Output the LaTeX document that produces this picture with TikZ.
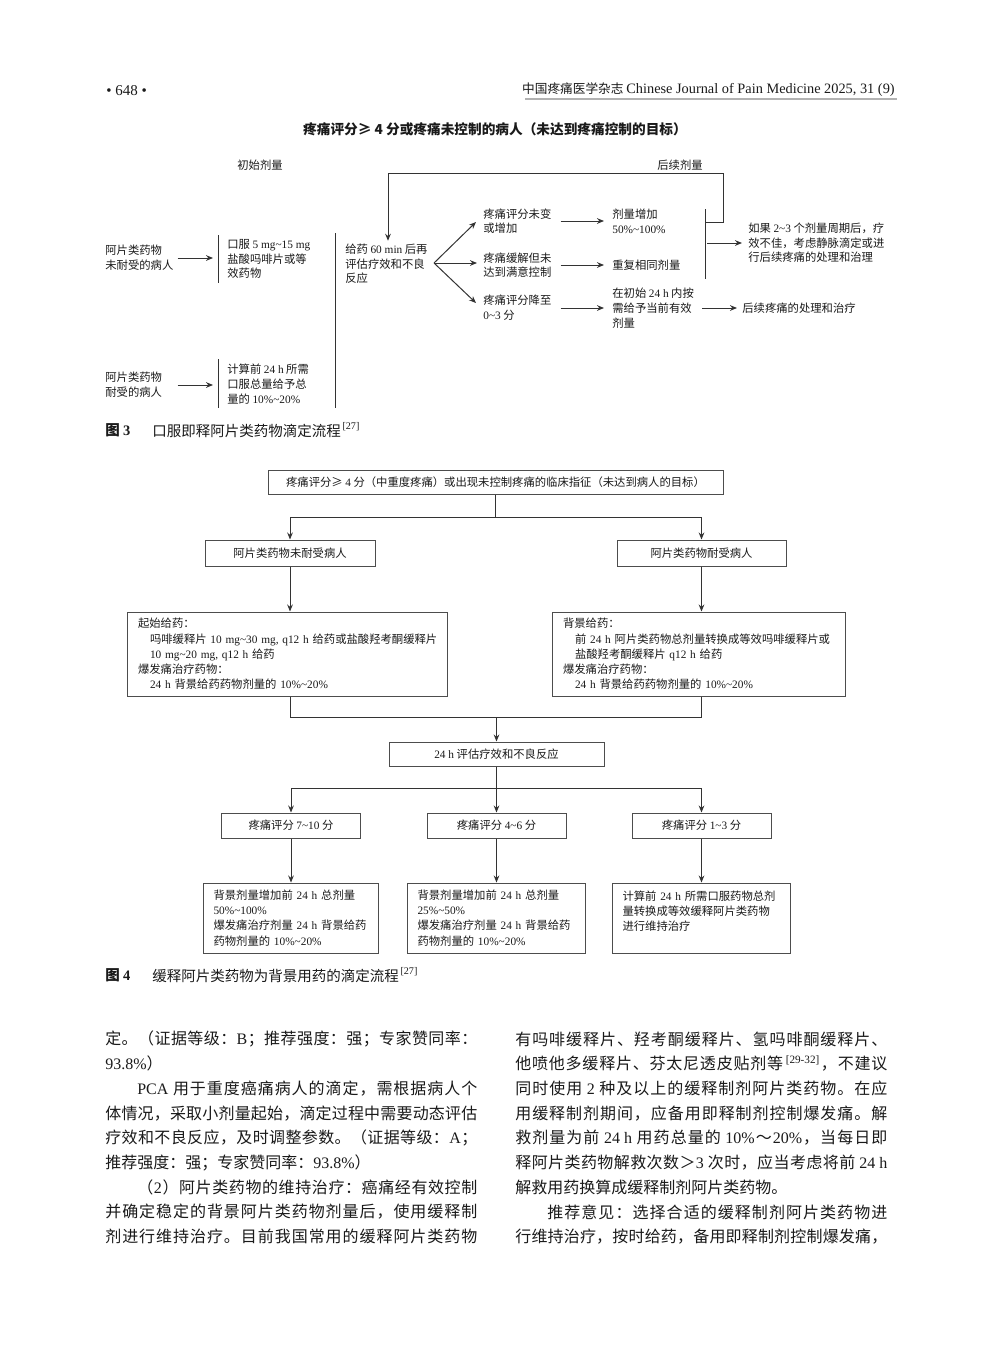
\documentclass[tikz,border=0pt]{standalone}
\usepackage{fontspec}
\setmainfont{Noto Sans CJK SC}
\newfontfamily\latinserif{Liberation Serif}
\usetikzlibrary{arrows.meta,calc,positioning}
\newcommand{\figfont}{\fontsize{6.8pt}{8.8pt}\selectfont}
\newcommand{\boxfont}{\fontsize{6.8pt}{9.1pt}\selectfont}
\newcommand{\bodyfont}{\fontsize{9.6pt}{14.8pt}\selectfont}
\newcommand{\capfont}{\fontsize{8.7pt}{10pt}\selectfont}
\newcommand{\rng}{\textasciitilde}
\newcommand{\tnr}[1]{{\latinserif #1}}
% justified body line: glue between every item of the line
\makeatletter
\newcommand{\jline}[1]{\hbox to 223.2pt{\@tfor\jtok:=#1\do{\jtok\hfil}\unskip}}
\newcommand{\jlinei}[1]{\hbox to 223.2pt{\hskip 2em\@tfor\jtok:=#1\do{\jtok\hfil}\unskip}}
\makeatother
\definecolor{inkline}{HTML}{333333}
\definecolor{boxline}{HTML}{4D4D4D}
\definecolor{ink}{HTML}{1A1A1A}
\tikzset{
  txt/.style={anchor=west, inner sep=0pt, align=left, font=\figfont, text=ink},
  arr/.style={-{Stealth[length=4.2pt,width=3.4pt]}, line width=0.6pt, draw=inkline},
  plainline/.style={line width=0.6pt, draw=inkline},
  box/.style={draw=boxline, line width=0.6pt, inner sep=0pt, font=\boxfont, align=center, text=ink},
  bigbox/.style={box, align=left, inner xsep=6.6pt},
  bodyline/.style={anchor=west, inner sep=0pt, font=\bodyfont, text=ink},
  captxt/.style={anchor=west, inner sep=0pt, font=\capfont, text=ink}
}
\begin{document}
\begin{tikzpicture}[x=0.6pt,y=-0.6pt]
\fill[white] (0,0) rectangle (992,1347);
\useasboundingbox (0,0) rectangle (992,1347);
% page head
\node[anchor=west, inner sep=0pt, font=\latinserif\fontsize{9pt}{10pt}\selectfont, text=ink] (folio) at (106,91) {•\ 648\ •};
\node[anchor=east, inner sep=0pt, font=\fontsize{7.6pt}{9pt}\selectfont, text=ink] (journal) at (895,90) {中国疼痛医学杂志 {\latinserif\fontsize{8.6pt}{9pt}\selectfont Chinese Journal of Pain Medicine 2025, 31 (9)}};
\draw[gray!60, line width=1.2pt] (525,98.5) -- (897,98.5);
%
% figure 3
\node[inner sep=0pt, font=\bfseries\fontsize{8.2pt}{10pt}\selectfont, text=ink] (f3title) at (495,129) {疼痛评分≥ 4 分或疼痛未控制的病人（未达到疼痛控制的目标）};
\node[txt, anchor=center] (initlbl) at (260,165) {初始剂量};
\node[txt, anchor=center] (nextlbl) at (680,165) {后续剂量};
%
\node[txt] (naivept)   at (105,258) {阿片类药物\\未耐受的病人};
\node[txt] (dosenaive) at (227,259) {口服 \tnr{5 mg\rng15 mg}\\盐酸吗啡片或等\\效药物};
\node[txt] (tolpt)     at (105,385) {阿片类药物\\耐受的病人};
\node[txt] (dosetol)   at (227,384) {计算前 \tnr{24 h} 所需\\口服总量给予总\\量的 \tnr{10\%\rng20\%}};
\node[txt] (reeval)    at (345,264) {给药 \tnr{60 min} 后再\\评估疗效和不良\\反应};
%
\node[txt] (unchanged) at (483,221) {疼痛评分未变\\或增加};
\node[txt] (relieved)  at (483,265) {疼痛缓解但未\\达到满意控制};
\node[txt] (lowered)   at (483,308) {疼痛评分降至\\\tnr{0\rng3} 分};
%
\node[txt] (incdose)   at (612,221) {剂量增加\\\tnr{50\%\rng100\%}};
\node[txt] (samedose)  at (612,265) {重复相同剂量};
\node[txt] (prndose)   at (612,308) {在初始 \tnr{24 h} 内按\\需给予当前有效\\剂量};
\node[txt] (ivnote)    at (748,243) {如果 \tnr{2\rng3} 个剂量周期后，疗\\效不佳，考虑静脉滴定或进\\行后续疼痛的处理和治理};
\node[txt] (followup)  at (742,308) {后续疼痛的处理和治疗};
%
\coordinate (bar1t) at (218,235);
\coordinate (bar1b) at (218,283);
\coordinate (bar2t) at (218,359);
\coordinate (bar2b) at (218,408);
\coordinate (bigt)  at (335,233);
\coordinate (bigb)  at (335,408);
\coordinate (bar3t) at (705,209);
\coordinate (bar3b) at (705,279);
\coordinate (fan)   at (434,263);
\coordinate (loopj) at (705,222);
\coordinate (loopr) at (723,173);
%
\draw[plainline] (bar1t) -- (bar1b);
\draw[plainline] (bar2t) -- (bar2b);
\draw[plainline] (bigt) -- (bigb);
\draw[plainline] (bar3t) -- (bar3b);
%
\draw[arr] ($(naivept.east)+(4,0)$) -- ($(naivept.east -| bar1t)+(-5,0)$);
\draw[arr] ($(tolpt.east -| naivept.east)+(4,0)$) -- ($(tolpt.east -| bar2t)+(-5,0)$);
%
\draw[arr] (fan) -- ($(unchanged.west)+(-7,1)$);
\draw[arr] (fan) -- ($(relieved.west)+(-6,-2)$);
\draw[arr] (fan) -- ($(lowered.west)+(-7,-5)$);
%
\draw[arr] ($(unchanged.east)+(9,0)$) -- ($(incdose.west)+(-8,0)$);
\draw[arr] ($(relieved.east)+(9,0)$) -- ($(samedose.west)+(-8,0)$);
\draw[arr] ($(lowered.east)+(9,0)$) -- ($(prndose.west)+(-8,0)$);
%
\draw[arr] ($(bar3t |- ivnote.west)+(2,0)$) -- ($(ivnote.west)+(-6,0)$);
\draw[arr] ($(prndose.east)+(8,0)$) -- ($(followup.west)+(-5,0)$);
\draw[arr] (loopj) -| (loopr) -| ($(reeval.north west)+(43,-3)$);
%
\node[captxt, font=\capfont\bfseries] (fig3no) at (105,430) {图 \tnr{3}};
\node[captxt] (fig3cap) at (152,430) {口服即释阿片类药物滴定流程\textsuperscript{\,\tnr{[27]}}};
%
% figure 4
\node[box, minimum width=273pt, minimum height=14.4pt] (top) at (495.5,482) {疼痛评分≥ \tnr{4} 分（中重度疼痛）或出现未控制疼痛的临床指征（未达到病人的目标）};
\node[box, minimum width=102pt, minimum height=15.6pt] (naive) at (290,553) {阿片类药物未耐受病人};
\node[box, minimum width=101.4pt, minimum height=15.6pt] (tolerant) at (701.5,553) {阿片类药物耐受病人};
\node[bigbox, text width=178.8pt, minimum width=192pt, minimum height=50.4pt] (start) at (287,654)
  {起始给药：\\
   \hspace*{7.2pt}吗啡缓释片~\tnr{10~mg\rng30~mg,~q12~h}~给药或盐酸羟考酮缓释片\\
   \hspace*{7.2pt}\tnr{10~mg\rng20~mg,~q12~h}~给药\\
   爆发痛治疗药物：\\
   \hspace*{7.2pt}\tnr{24~h}~背景给药药物剂量的~\tnr{10\%\rng20\%}};
\node[bigbox, text width=162.6pt, minimum width=175.8pt, minimum height=50.4pt] (backg) at (698.5,654)
  {背景给药：\\
   \hspace*{7.2pt}前~\tnr{24~h}~阿片类药物总剂量转换成等效吗啡缓释片或\\
   \hspace*{7.2pt}盐酸羟考酮缓释片~\tnr{q12~h}~给药\\
   爆发痛治疗药物：\\
   \hspace*{7.2pt}\tnr{24~h}~背景给药药物剂量的~\tnr{10\%\rng20\%}};
\node[box, minimum width=129pt, minimum height=14.4pt] (eval24) at (496.5,754) {\tnr{24 h} 评估疗效和不良反应};
\node[box, minimum width=83.4pt, minimum height=15pt] (sev)  at (291,825.5) {疼痛评分 \tnr{7\rng10} 分};
\node[box, minimum width=83.4pt, minimum height=15pt] (mod)  at (496.5,825.5) {疼痛评分 \tnr{4\rng6} 分};
\node[box, minimum width=83.4pt, minimum height=15pt] (mild) at (701.5,825.5) {疼痛评分 \tnr{1\rng3} 分};
\node[bigbox, inner xsep=6pt, text width=93pt, minimum width=105pt, minimum height=42pt] (sevplan) at (291,918)
  {背景剂量增加前~\tnr{24~h}~总剂量\\
   \tnr{50\%\rng100\%}\\
   爆发痛治疗剂量~\tnr{24~h}~背景给药\\
   药物剂量的~\tnr{10\%\rng20\%}};
\node[bigbox, inner xsep=6pt, text width=94.8pt, minimum width=106.8pt, minimum height=42pt] (modplan) at (496.5,918)
  {背景剂量增加前~\tnr{24~h}~总剂量\\
   \tnr{25\%\rng50\%}\\
   爆发痛治疗剂量~\tnr{24~h}~背景给药\\
   药物剂量的~\tnr{10\%\rng20\%}};
\node[bigbox, inner xsep=6pt, text width=94.8pt, minimum width=106.8pt, minimum height=42pt] (mildplan) at (701.5,918)
  {计算前~\tnr{24~h}~所需口服药物总剂\\
   量转换成等效缓释阿片类药物\\
   进行维持治疗\\
   \mbox{}};
%
\coordinate (split1) at ($(top.south)+(0,23)$);
\draw[plainline] (top.south) -- (split1);
\draw[arr] (split1) -| (naive.north);
\draw[arr] (split1) -| (tolerant.north);
\draw[arr] (naive.south) -- (naive.south |- start.north);
\draw[arr] (tolerant.south) -- (tolerant.south |- backg.north);
%
\coordinate (merge1) at ($(eval24.north)+(0,-24)$);
\draw[plainline] (naive.south |- start.south) |- (merge1) -| (tolerant.south |- backg.south);
\draw[arr] (merge1) -- (eval24.north);
%
\coordinate (split2) at ($(eval24.south)+(0,22)$);
\draw[plainline] (eval24.south) -- (split2);
\draw[arr] (split2) -| (sev.north);
\draw[arr] (split2) -- (mod.north);
\draw[arr] (split2) -| (mild.north);
%
\draw[arr] (sev.south) -- (sevplan.north);
\draw[arr] (mod.south) -- (modplan.north);
\draw[arr] (mild.south) -- (mildplan.north);
%
\node[captxt, font=\capfont\bfseries] (fig4no) at (105,975) {图 \tnr{4}};
\node[captxt] (fig4cap) at (152,975) {缓释阿片类药物为背景用药的滴定流程\textsuperscript{\,\tnr{[27]}}};
%
% body text, left column
\node[bodyline] (l1) at (105,1039)   {\jline{定。（证据等级：{\tnr{B}}；推荐强度：强；专家赞同率：}};
\node[bodyline] (l2) at (105,1063.7) {\tnr{93.8\%}）};
\node[bodyline] (l3) at (105,1088.4) {\jlinei{{\tnr{PCA}\ }用于重度癌痛病人的滴定，需根据病人个}};
\node[bodyline] (l4) at (105,1113.1) {\jline{体情况，采取小剂量起始，滴定过程中需要动态评估}};
\node[bodyline] (l5) at (105,1137.8) {\jline{疗效和不良反应，及时调整参数。（证据等级：{\tnr{A}}；}};
\node[bodyline] (l6) at (105,1162.5) {推荐强度：强；专家赞同率：\tnr{93.8\%}）};
\node[bodyline] (l7) at (105,1187.2) {\jlinei{（{\tnr{2}}）阿片类药物的维持治疗：癌痛经有效控制}};
\node[bodyline] (l8) at (105,1211.9) {\jline{并确定稳定的背景阿片类药物剂量后，使用缓释制}};
\node[bodyline] (l9) at (105,1236.6) {\jline{剂进行维持治疗。目前我国常用的缓释阿片类药物}};
% body text, right column
\node[bodyline] (r1) at (515,1039)   {\jline{有吗啡缓释片、羟考酮缓释片、氢吗啡酮缓释片、}};
\node[bodyline] (r2) at (515,1063.7) {\jline{他喷他多缓释片、芬太尼透皮贴剂等{\textsuperscript{\,\tnr{[29-32]}}}，不建议}};
\node[bodyline] (r3) at (515,1088.4) {\jline{同时使用{\ \tnr{2}\ }种及以上的缓释制剂阿片类药物。在应}};
\node[bodyline] (r4) at (515,1113.1) {\jline{用缓释制剂期间，应备用即释制剂控制爆发痛。解}};
\node[bodyline] (r5) at (515,1137.8) {\jline{救剂量为前{\ \tnr{24 h}\ }用药总量的{\ \tnr{10\%}}～{\tnr{20\%}}，当每日即}};
\node[bodyline] (r6) at (515,1162.5) {\jline{释阿片类药物解救次数＞{\tnr{3}\ }次时，应当考虑将前{\ \tnr{24 h}}}};
\node[bodyline] (r7) at (515,1187.2) {解救用药换算成缓释制剂阿片类药物。};
\node[bodyline] (r8) at (515,1211.9) {\jlinei{推荐意见：选择合适的缓释制剂阿片类药物进}};
\node[bodyline] (r9) at (515,1236.6) {\jline{行维持治疗，按时给药，备用即释制剂控制爆发痛，}};
\end{tikzpicture}
\end{document}
